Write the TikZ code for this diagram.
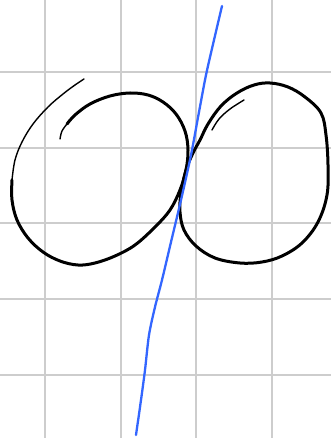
\documentclass[tikz,border=0pt]{standalone}
\definecolor{gridgray}{RGB}{205,205,205}
\definecolor{penblue}{RGB}{51,102,255}
\tikzset{
  gridline/.style={draw=gridgray, line width=2pt},
  inkthick/.style={draw=black, line width=3pt, line cap=round, line join=round},
  inkthin/.style={draw=black, line width=1.4pt, line cap=round, line join=round},
  blueink/.style={draw=penblue, line width=2.3pt, line cap=round, line join=round}
}
\begin{document}
\begin{tikzpicture}[x=1pt,y=-1pt]
\useasboundingbox (0,0) rectangle (331,438);
\fill[white] (0,0) rectangle (331,438);
% grid
\foreach \gx in {45,120.7,196.4,272.1} \draw[gridline] (\gx,0) -- (\gx,438);
\foreach \gy in {72,147.7,223.4,299.1,374.8} \draw[gridline] (0,\gy) -- (331,\gy);
% left loop: thick inner part
\draw[inkthin] plot[smooth, tension=0.6] coordinates {(60,139) (62,131) (67,124)};
\draw[inkthick] plot[smooth, tension=0.6] coordinates {
 (67,124) (75,115) (90,104) (110,96) (130,93) (148,95) (163,102) (176,114) (185,131) (188,150) (186,170) (180,190) (170,210) (155,227) (135,245) (115,256) (95,263) (78,265) (60,261) (43,252) (28,238) (17,220) (12,200) (12,180)};
\draw[inkthin] plot[smooth, tension=0.6] coordinates {
 (12,180) (15,160) (22,142) (33,124) (48,107) (63,94) (75,85) (84,79)};
% right loop
\draw[inkthick] plot[smooth cycle, tension=0.6] coordinates {
 (193,153) (186,170) (181,193) (180,212) (184,230) (196,246) (215,258) (240,263) (262,262) (282,256) (302,243) (318,222) (327,195) (328,165) (326,135) (321,113) (305,97) (288,87) (270,83) (254,85) (237,93) (221,106) (208,124) (200,140)};
\draw[inkthin] plot[smooth, tension=0.6] coordinates {
 (244,100) (230,109) (219,119) (212,130)};
% blue line
\draw[blueink] plot[smooth, tension=0.5] coordinates {
 (222,6) (214,40) (206,75) (199,112) (191,155) (181,200) (171,242) (162,280) (155,307) (149,335) (145,370) (141,400) (136,435)};
\end{tikzpicture}
\end{document}
